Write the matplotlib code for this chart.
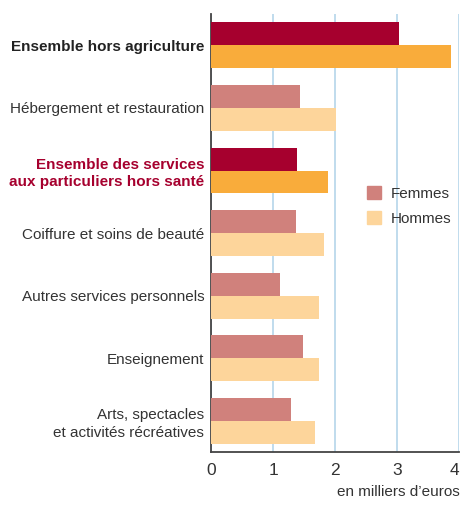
import numpy as np
import matplotlib
matplotlib.use("Agg")
import matplotlib.pyplot as plt
from matplotlib.patches import Patch

plt.rcParams['font.family'] = ['Liberation Sans', 'DejaVu Sans']

# data (milliers d'euros)
categories = ["Ensemble hors agriculture",
              "Hébergement et restauration",
              "Ensemble des services\naux particuliers hors santé",
              "Coiffure et soins de beauté",
              "Autres services personnels",
              "Enseignement",
              "Arts, spectacles\net activités récréatives"]
femmes = [3.04, 1.44, 1.38, 1.37, 1.11, 1.48, 1.29]
hommes = [3.88, 2.01, 1.88, 1.83, 1.75, 1.74, 1.67]
is_total = [True, False, True, False, False, False, False]
label_colors = ["#222222", "#333333", "#A6002E", "#333333", "#333333", "#333333", "#333333"]

dark_f, dark_h = "#A6002E", "#F9AC3B"
light_f, light_h = "#D0817C", "#FDD59B"

fig = plt.figure(figsize=(4.62, 5.05), dpi=100)
ax = fig.add_axes([0.457, 0.105, 0.536, 0.867])

y = np.arange(len(categories))
h = 0.367
cf = [dark_f if t else light_f for t in is_total]
ch = [dark_h if t else light_h for t in is_total]
ax.barh(y - h / 2, femmes, height=h, color=cf, zorder=3)
ax.barh(y + h / 2, hommes, height=h, color=ch, zorder=3)

ax.set_ylim(len(categories) - 0.5, -0.5)
ax.set_xlim(0, 4)
ax.set_xticks([0, 1, 2, 3, 4])
ax.set_xticklabels(["0", "1", "2", "3", "4"], fontsize=12.5, color="#333333")
ax.set_yticks(y)
ax.set_yticklabels(categories, fontsize=11, linespacing=1.3)
for lab, t, c in zip(ax.get_yticklabels(), is_total, label_colors):
    lab.set_color(c)
    if t:
        lab.set_fontweight("bold")
ax.tick_params(axis="both", length=0)
ax.tick_params(axis="y", pad=5)
ax.tick_params(axis="x", pad=8)
ax.get_xticklabels()[-1].set_horizontalalignment("right")

ax.grid(axis="x", color="#B5D6EA", linewidth=1.2, zorder=0)
for s in ["top", "right"]:
    ax.spines[s].set_visible(False)
ax.spines["left"].set_color("#444444")
ax.spines["bottom"].set_color("#444444")
ax.spines["left"].set_linewidth(1.3)
ax.spines["bottom"].set_linewidth(1.3)

handles = [Patch(color=light_f), Patch(color=light_h)]
ax.legend(handles, ["Femmes", "Hommes"], loc="upper left",
          bbox_to_anchor=(0.6, 0.625), frameon=False, fontsize=11,
          borderpad=0, handlelength=0.9, handleheight=0.9, labelspacing=0.7,
          handletextpad=0.6, labelcolor="#333333")

fig.text(0.995, 0.012, "en milliers d\u2019euros", ha="right", va="bottom",
         fontsize=11, color="#333333")

fig.savefig("out.png", dpi=100)
